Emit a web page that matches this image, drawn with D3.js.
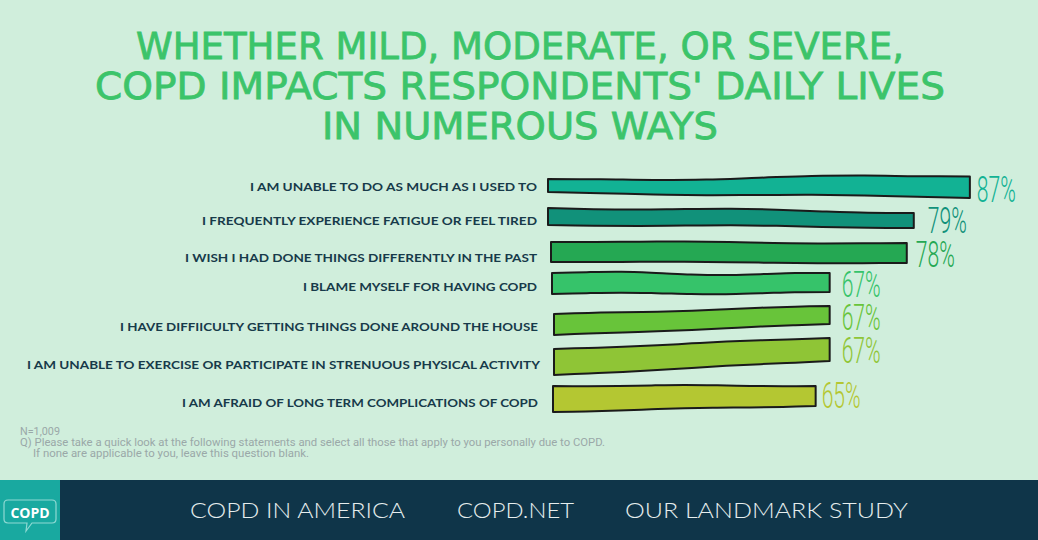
<!DOCTYPE html>
<html>
<head>
<meta charset="utf-8">
<script src="https://cdn.jsdelivr.net/npm/d3@7/dist/d3.min.js"></script>
<style>
  html, body { margin: 0; padding: 0; background: #d0eedc; }
  svg { display: block; }
</style>
</head>
<body>
<svg id="chart" width="1038" height="540"></svg>
<script>
// ---- data ----
const titleLines = [
  "WHETHER MILD, MODERATE, OR SEVERE,",
  "COPD IMPACTS RESPONDENTS' DAILY LIVES",
  "IN NUMEROUS WAYS"
];
const categories = [
  "I AM UNABLE TO DO AS MUCH AS I USED TO",
  "I FREQUENTLY EXPERIENCE FATIGUE OR FEEL TIRED",
  "I WISH I HAD DONE THINGS DIFFERENTLY IN THE PAST",
  "I BLAME MYSELF FOR HAVING COPD",
  "I HAVE DIFFIICULTY GETTING THINGS DONE AROUND THE HOUSE",
  "I AM UNABLE TO EXERCISE OR PARTICIPATE IN STRENUOUS PHYSICAL ACTIVITY",
  "I AM AFRAID OF LONG TERM COMPLICATIONS OF COPD"
];
const values = [87, 79, 78, 67, 67, 67, 65];
const barColors = ["#12b294", "#11917a", "#25a853", "#36c36a", "#68c43a", "#8fc536", "#b4c732"];
const footnotes = [
  "N=1,009",
  "Q) Please take a quick look at the following statements and select all those that apply to you personally due to COPD.",
  "If none are applicable to you, leave this question blank."
];
const footerLinks = ["COPD IN AMERICA", "COPD.NET", "OUR LANDMARK STUDY"];

// ---- drawing ----
const svg = d3.select("#chart");
const W = 1038, H = 540;

svg.append("rect").attr("width", W).attr("height", H).attr("fill", "#d0eedc");

// title
const titleW = [768, 850, 396];
svg.append("g").selectAll("text").data(titleLines).join("text")
  .attr("x", 520)
  .attr("y", (d, i) => 59 + i * 40)
  .attr("text-anchor", "middle")
  .attr("font-family", "'DejaVu Sans', sans-serif")
  .attr("font-weight", "normal")
  .attr("font-size", 37)
  .attr("fill", "#3cc46a")
  .attr("stroke", "#3cc46a")
  .attr("stroke-width", 0.8)
  .attr("textLength", (d, i) => titleW[i])
  .attr("lengthAdjust", "spacingAndGlyphs")
  .text(d => d);

// scales
const x = d3.scaleLinear().domain([0, 100]).range([360, 1061]);
const y = d3.scalePoint().domain(categories).range([187, 398]);

// hand-drawn layout jitter (style only)
const rowDy  = [-0.5, -3.7, -4.8, -9.5, -7.7, -6.8, 0];
const leftX  = [548, 548, 551, 552, 554, 554, 553];
// corner offsets from row centre: [topLeft, bottomLeft, topRight, bottomRight]
const corners = [
  [-7.5, 5.5, -10, 11.5],
  [-10.5, 6.5, -5.5, 9.5],
  [-10.5, 9.5, -9.5, 10.5],
  [-10, 11, -10, 9],
  [-6, 15, -14, 4],
  [-7, 19, -18, 5],
  [-12, 14, -12, 8]
];
const wave = [2.2, 1.8, 1.0, 2.2, 0.8, 0.8, 1];
const yc = i => y(categories[i]) + rowDy[i];

function barPath(d, i) {
  const x0 = leftX[i];
  const x1 = x(d);
  const c = yc(i);
  const [tl, bl, tr, br] = corners[i];
  const n = 8;
  const top = [], bot = [];
  for (let k = 0; k <= n; k++) {
    const f = k / n;
    const xx = x0 + (x1 - x0) * f;
    const bump = Math.sin(f * Math.PI);
    const wv = wave[i] * Math.sin(f * Math.PI * 2 + i * 1.3) * bump;
    top.push([xx, c + tl + (tr - tl) * f + wv]);
    bot.push([xx, c + bl + (br - bl) * f + wv * 0.7]);
  }
  const line = d3.line().curve(d3.curveCatmullRom);
  const tStr = line(top);
  const bStr = line(bot.reverse()).replace(/^M/, "L");
  return tStr + bStr + "Z";
}

svg.append("g").selectAll("path").data(values).join("path")
  .attr("d", barPath)
  .attr("fill", (d, i) => barColors[i])
  .attr("stroke", "#1a1a1a")
  .attr("stroke-width", 2)
  .attr("stroke-linejoin", "round");

// category labels
const labelW = [287, 335, 352, 234, 418, 513, 356];
const labelDy = [4.5, 6.5, 9, 8, 11, 13, 9];
const labelX = [537, 537, 537, 537, 538, 540, 538];
svg.append("g").selectAll("text").data(categories).join("text")
  .attr("x", (d, i) => labelX[i])
  .attr("y", (d, i) => yc(i) + labelDy[i])
  .attr("text-anchor", "end")
  .attr("font-family", "Lato, 'Open Sans', sans-serif")
  .attr("font-weight", "bold")
  .attr("font-size", 12)
  .attr("fill", "#173a4a")
  .attr("textLength", (d, i) => labelW[i])
  .attr("lengthAdjust", "spacingAndGlyphs")
  .text(d => d);

// value labels
const valDy = [15.5, 14.5, 14.5, 14, 10, 7, 10];
const valDx = [7, 14, 9, 12, 12, 12, 6];
svg.append("g").selectAll("text").data(values).join("text")
  .attr("x", (d, i) => x(d) + valDx[i])
  .attr("y", (d, i) => yc(i) + valDy[i])
  .attr("font-family", "Roboto, sans-serif")
  .attr("font-weight", 300)
  .attr("font-size", 37)
  .attr("fill", (d, i) => barColors[i])
  .attr("textLength", 39)
  .attr("lengthAdjust", "spacingAndGlyphs")
  .text(d => d + "%");

// footnotes
const footX = [20, 20, 33];
const footW = [40, 585, 276];
svg.append("g").selectAll("text").data(footnotes).join("text")
  .attr("x", (d, i) => footX[i])
  .attr("y", (d, i) => 435 + i * 11)
  .attr("font-family", "Roboto, sans-serif")
  .attr("font-size", 10)
  .attr("fill", "#9aa8a8")
  .attr("textLength", (d, i) => footW[i])
  .attr("lengthAdjust", "spacingAndGlyphs")
  .text(d => d);

// footer
svg.append("rect").attr("x", 0).attr("y", 480).attr("width", W).attr("height", 60).attr("fill", "#0f3549");
svg.append("rect").attr("x", 0).attr("y", 480).attr("width", 60).attr("height", 60).attr("fill", "#19a9a0");
// logo bubble
svg.append("path")
  .attr("d", "M8,500 H52 Q56,500 56,504 V519 Q56,523 52,523 H32 L26,531 L27,523 H8 Q4,523 4,519 V504 Q4,500 8,500 Z")
  .attr("fill", "none").attr("stroke", "#8fd9d3").attr("stroke-width", 1.2);
svg.append("text").attr("x", 30).attr("y", 518).attr("text-anchor", "middle")
  .attr("font-family", "'Open Sans', sans-serif").attr("font-weight", "bold").attr("font-size", 14)
  .attr("fill", "#ffffff").text("COPD");

const footerX = [190, 457, 625];
const footerW = [215, 117, 283];
svg.append("g").selectAll("text").data(footerLinks).join("text")
  .attr("x", (d, i) => footerX[i])
  .attr("y", 518)
  .attr("font-family", "Lato, 'Open Sans', sans-serif")
  .attr("font-weight", 300)
  .attr("font-size", 21)
  .attr("fill", "#e6eeee")
  .attr("textLength", (d, i) => footerW[i])
  .attr("lengthAdjust", "spacingAndGlyphs")
  .text(d => d);
</script>
</body>
</html>
